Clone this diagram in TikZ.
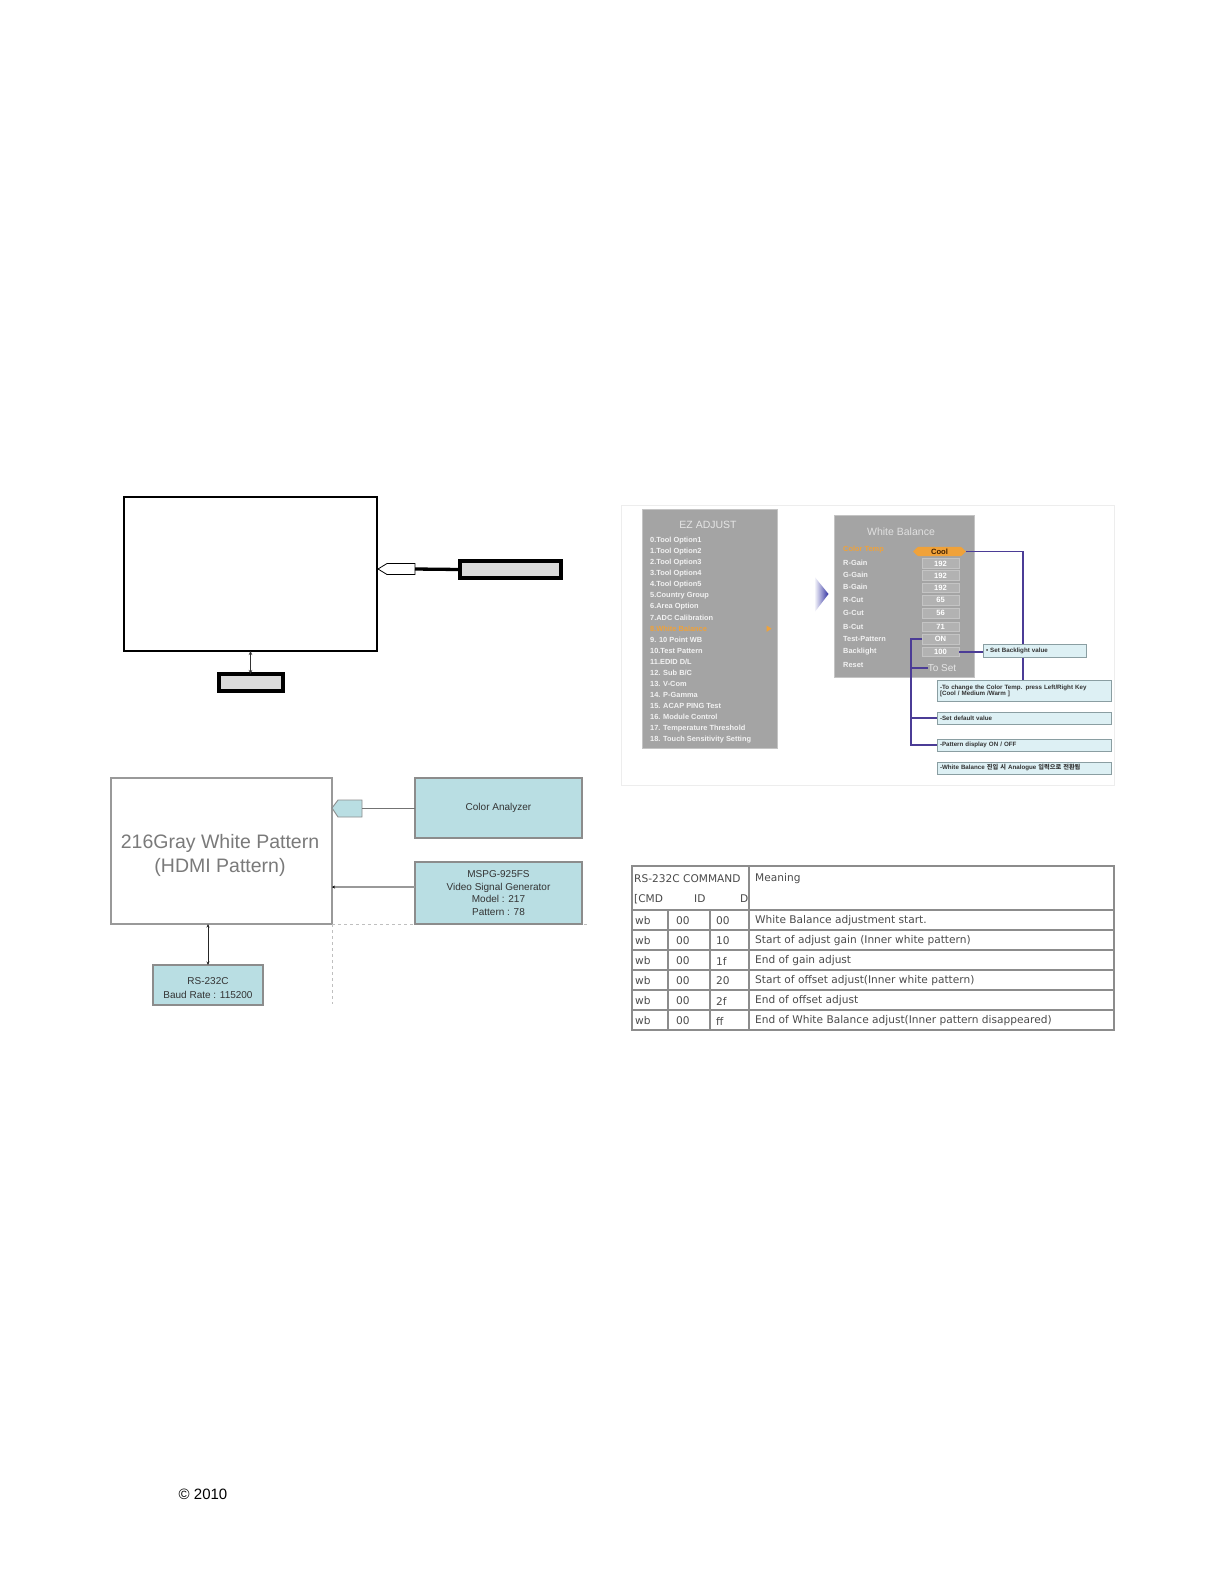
\documentclass[tikz,border=0pt]{standalone}
\usepackage{fontspec}
\setmainfont{Liberation Sans}
\newfontfamily\kr{Noto Sans CJK KR}
\newfontfamily\tabfont{DejaVu Sans}
\usetikzlibrary{arrows.meta}
\pgfdeclarelayer{front}
\pgfsetlayers{main,front}
\definecolor{cTeal}{HTML}{B9DEE3}
\definecolor{cTealB}{HTML}{8A9EA2}
\definecolor{cPanel}{HTML}{A4A4A4}
\definecolor{cPanelB}{HTML}{C4C4C4}
\definecolor{cOrange}{HTML}{F0A23A}
\definecolor{cBlue}{HTML}{4B3C96}
\definecolor{cNote}{HTML}{DDF0F4}
\definecolor{cGrayTxt}{HTML}{7A7A7A}
\definecolor{cTab}{HTML}{4A4A4A}
\definecolor{cLine}{HTML}{8C8C8C}
\newcommand{\fs}[1]{\fontsize{#1}{#1}\selectfont}
\begin{document}
\begin{tikzpicture}[x=1pt,y=-1pt,
  box/.style={rectangle,inner sep=0pt,outer sep=0pt},
  heavybox/.style={box,draw=black,line width=4pt,fill=black!14},
  tealbox/.style={box,draw=cLine,line width=1.2pt,fill=cTeal,align=center,text=black!80,font=\fs{10}},
  ezitem/.style={anchor=west,inner sep=0pt,font=\fs{7.4}\bfseries,text=white!95!black},
  wblabel/.style={anchor=west,inner sep=0pt,font=\fs{7.4}\bfseries,text=white!95!black},
  wbval/.style={box,draw=cPanelB,line width=0.6pt,fill=black!30,minimum width=37pt,minimum height=9.5pt,font=\fs{7.6}\bfseries,text=white},
  note/.style={box,draw=cTealB,line width=0.9pt,fill=cNote,anchor=north west,text=black!80,font=\fs{6.2}\bfseries,align=left},
  bl/.style={draw=cBlue,line width=1.8pt},
  tabtxt/.style={anchor=west,inner sep=0pt,font=\tabfont\fs{10.6},text=cTab},
  tabline/.style={draw=cLine,line width=1.2pt}
]
\useasboundingbox (0,0) rectangle (1225,1585);

% ---------------- top-left diagram ----------------
\node[box,draw=black,line width=1.5pt,fill=white,minimum width=253pt,minimum height=154pt] (tv1) at (250.5,574) {};
\draw[black,line width=0.8pt,fill=white] (378,569) -- (387,563.5) -- (415,563.5) -- (415,574.5) -- (387,574.5) -- cycle;
\coordinate (p1r) at (415,569);
\node[heavybox,minimum width=101pt,minimum height=17pt] (ca1) at (510.5,569.5) {};
\draw[black,line width=3.3pt] (p1r) -- (ca1.west);
\node[heavybox,minimum width=64pt,minimum height=17pt] (rs1) at (250.5,682.5) {};
\draw[black!80,line width=1pt,{Stealth[length=4pt,width=3.5pt]}-{Stealth[length=4pt,width=3.5pt]}] (tv1.south) -- (rs1.north);

% ---------------- bottom-left diagram ----------------
\node[box,draw=black!40,line width=1.2pt,fill=white,minimum width=221pt,minimum height=146pt] (tv2) at (221.5,851) {};
\node[inner sep=0pt,align=center,text=cGrayTxt,font=\fs{19.5}] (tv2txt) at (220,855.5) {216Gray White Pattern\\[4pt](HDMI Pattern)};
\draw[black!25,line width=0.8pt,dashed] (tv2.south east) -- ++(255,0);
\draw[black!25,line width=0.8pt,dashed] (tv2.south east) -- ++(0,80);
\draw[cLine,line width=0.9pt,fill=cTeal] (332,808) -- (338,800) -- (362,800) -- (362,817) -- (338,817) -- cycle;
\coordinate (p2r) at (362,808);
\node[tealbox,minimum width=167pt,minimum height=60pt] (ca2) at (498.5,808) {Color Analyzer};
\draw[black!55,line width=1pt] (p2r) -- (ca2.west);
\node[tealbox,minimum width=167pt,minimum height=62pt] (gen2) at (498.5,893) {MSPG-925FS\\[2.7pt]Video Signal Generator\\[2.7pt]Model : 217\\[2.7pt]Pattern : 78};
\draw[black!40,line width=2pt,-{Stealth[length=3pt,width=3pt,black]}] (gen2.west |- 0,887) -- (tv2.east |- 0,887);
\node[tealbox,minimum width=110pt,minimum height=40pt] (rs2) at (208,985) {};
\node[inner sep=0pt,align=center,text=black!80,font=\fs{10}] (rs2txt) at (208,988) {RS-232C\\[3.5pt]Baud Rate : 115200};
\draw[black!85,line width=0.9pt,{Stealth[length=3.5pt,width=3pt]}-{Stealth[length=3.5pt,width=3pt]}] (tv2.south -| rs2.north) -- (rs2.north);

% ---------------- screenshot: EZ ADJUST ----------------
\draw[black!7,line width=0.8pt] (621,505) rectangle (1114,785);
\node[box,draw=cPanelB,line width=1pt,fill=cPanel,minimum width=135pt,minimum height=239pt] (ez) at (709.5,628.5) {};
\node[inner sep=0pt,font=\fs{10.5},text=white!90!black] (eztitle) at (708,525) {EZ ADJUST};
\node[ezitem] (e0) at (650,540.7) {0.Tool Option1};
\node[ezitem] (e1) at (650,551.7) {1.Tool Option2};
\node[ezitem] (e2) at (650,562.8) {2.Tool Option3};
\node[ezitem] (e3) at (650,573.8) {3.Tool Option4};
\node[ezitem] (e4) at (650,584.8) {4.Tool Option5};
\node[ezitem] (e5) at (650,595.9) {5.Country Group};
\node[ezitem] (e6) at (650,606.9) {6.Area Option};
\node[ezitem] (e7) at (650,617.9) {7.ADC Calibration};
\node[ezitem,text=cOrange] (e8) at (650,628.9) {8.White Balance};
\node[ezitem] (e9) at (650,640.0) {9. 10 Point WB};
\node[ezitem] (e10) at (650,651.0) {10.Test Pattern};
\node[ezitem] (e11) at (650,662.0) {11.EDID D/L};
\node[ezitem] (e12) at (650,673.1) {12. Sub B/C};
\node[ezitem] (e13) at (650,684.1) {13. V-Com};
\node[ezitem] (e14) at (650,695.1) {14. P-Gamma};
\node[ezitem] (e15) at (650,706.2) {15. ACAP PING Test};
\node[ezitem] (e16) at (650,717.2) {16. Module Control};
\node[ezitem] (e17) at (650,728.2) {17. Temperature Threshold};
\node[ezitem] (e18) at (650,739.3) {18. Touch Sensitivity Setting};
\fill[cOrange] (766.5,625.5) -- (771.5,628.7) -- (766.5,631.9) -- cycle;

% chevron
\shade[left color=white,right color=blue!55!black!80!white] (814,576) -- (828.5,594) -- (814,613) -- cycle;

% ---------------- screenshot: White Balance ----------------
\node[box,draw=cPanelB,line width=1pt,fill=cPanel,minimum width=140pt,minimum height=162pt] (wb) at (904,596) {};
\node[inner sep=0pt,font=\fs{10.5},text=white!88!black] (wbtitle) at (901,532) {White Balance};
\node[wblabel,text=cOrange] (lct) at (843,550) {Color Temp};
\node[wblabel] (lrg) at (843,562.7) {R-Gain};
\node[wblabel] (lgg) at (843,575) {G-Gain};
\node[wblabel] (lbg) at (843,587.3) {B-Gain};
\node[wblabel] (lrc) at (843,600) {R-Cut};
\node[wblabel] (lgc) at (843,613.3) {G-Cut};
\node[wblabel] (lbc) at (843,626.7) {B-Cut};
\node[wblabel] (ltp) at (843,639.3) {Test-Pattern};
\node[wblabel] (lbl) at (843,651.7) {Backlight};
\node[wblabel] (lrs) at (843,665) {Reset};
\fill[cOrange] (913,551.5) -- (918,546.8) -- (961,546.8) -- (966,551.5) -- (961,556.2) -- (918,556.2) -- cycle;
\node[box,minimum width=53pt,minimum height=9.4pt,font=\fs{7.6}\bfseries,text=black!75!orange] (cool) at (939.5,551.5) {Cool};
\node[wbval] (v1) at (940.5,563.5) {192};
\node[wbval] (v2) at (940.5,575.5) {192};
\node[wbval] (v3) at (940.5,587.8) {192};
\node[wbval] (v4) at (940.5,600.3) {65};
\node[wbval] (v5) at (940.5,613.3) {56};
\node[wbval] (v6) at (940.5,626.7) {71};
\node[wbval] (von) at (940.5,639.3) {ON};
\node[wbval] (v100) at (940.5,651.7) {100};
\node[inner sep=0pt,font=\fs{10},text=white!90!black] (toset) at (942,668) {To Set};

% notes (drawn in front of the connectors)
\begin{pgfonlayer}{front}
\node[note,minimum width=103pt,minimum height=13pt,text width=97pt,inner xsep=3pt] (sbl) at (983,644) {• Set Backlight value};
\node[note,minimum width=174pt,minimum height=21pt,text width=168pt,inner xsep=3pt] (ctn) at (937,680) {\baselineskip=7.5pt -To change the Color Temp. press Left/Right Key\\{[Cool / Medium /Warm ]}};
\node[note,minimum width=174pt,minimum height=12pt,text width=168pt,inner xsep=3pt] (def) at (937,712) {-Set default value};
\node[note,minimum width=174pt,minimum height=12pt,text width=168pt,inner xsep=3pt] (pat) at (937,739) {-Pattern display ON / OFF};
\node[note,minimum width=174pt,minimum height=12pt,text width=168pt,inner xsep=3pt] (kor) at (937,762) {-White Balance {\kr 진입 시} Analogue {\kr 입력으로 전환됨}};
\end{pgfonlayer}

% blue connectors
\coordinate (cj) at (1023,551.5);
\draw[bl] (cool.east) -- (cj) -- (cj |- ctn.north);
\draw[bl] (v100.east) -- (v100.east -| sbl.west);
\coordinate (bk) at (911,640);
\draw[bl] (von.west) -- (von.west -| bk) -- (bk |- pat.west) -- (pat.west);
\draw[bl] (toset.west) -- (toset.west -| bk);
\draw[bl] (bk |- def.west) -- (def.west);

% ---------------- table ----------------
\node[box,draw=cLine,line width=1.2pt,minimum width=482pt,minimum height=164pt] (tbl) at (873,948) {};
\foreach \yy in {910,930,950,970,990,1010} \draw[tabline] (632,\yy) -- (1114,\yy);
\draw[tabline] (749,866) -- (749,1030);
\draw[tabline] (668,910) -- (668,1030);
\draw[tabline] (710,910) -- (710,1030);
\node[tabtxt] (h1) at (634,879) {RS-232C COMMAND};
\node[tabtxt] (h2) at (634,899) {[CMD};
\node[tabtxt] (h3) at (694,899) {ID};
\node[tabtxt] (h4) at (740,899) {D};
\node[tabtxt] (h5) at (755,879) {Meaning};
\node[tabtxt] (a1) at (635,921) {wb}; \node[tabtxt] (b1) at (676,921) {00}; \node[tabtxt] (c1) at (716,921) {00};
\node[tabtxt] (m1) at (755,921) {White Balance adjustment start.};
\node[tabtxt] (a2) at (635,941) {wb}; \node[tabtxt] (b2) at (676,941) {00}; \node[tabtxt] (c2) at (716,941) {10};
\node[tabtxt] (m2) at (755,941) {Start of adjust gain (Inner white pattern)};
\node[tabtxt] (a3) at (635,961) {wb}; \node[tabtxt] (b3) at (676,961) {00}; \node[tabtxt] (c3) at (716,961) {1f};
\node[tabtxt] (m3) at (755,961) {End of gain adjust};
\node[tabtxt] (a4) at (635,981) {wb}; \node[tabtxt] (b4) at (676,981) {00}; \node[tabtxt] (c4) at (716,981) {20};
\node[tabtxt] (m4) at (755,981) {Start of offset adjust(Inner white pattern)};
\node[tabtxt] (a5) at (635,1001) {wb}; \node[tabtxt] (b5) at (676,1001) {00}; \node[tabtxt] (c5) at (716,1001) {2f};
\node[tabtxt] (m5) at (755,1001) {End of offset adjust};
\node[tabtxt] (a6) at (635,1021) {wb}; \node[tabtxt] (b6) at (676,1021) {00}; \node[tabtxt] (c6) at (716,1021) {ff};
\node[tabtxt] (m6) at (755,1021) {End of White Balance adjust(Inner pattern disappeared)};

% ---------------- footer ----------------
\node[inner sep=0pt,font=\fs{15}] (copy) at (203,1494) {© 2010};
\end{tikzpicture}
\end{document}
